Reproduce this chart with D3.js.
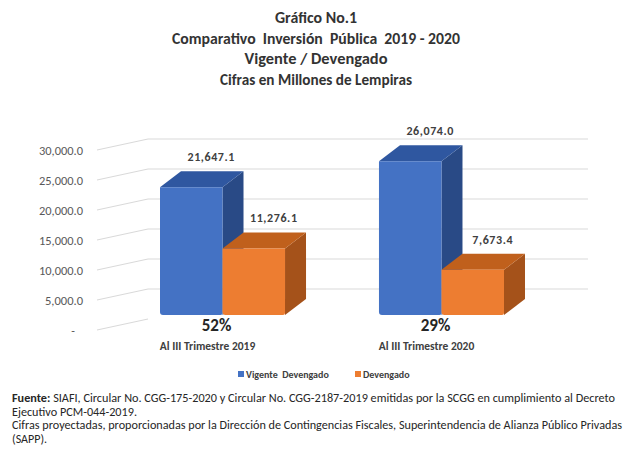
<!DOCTYPE html>
<html><head><meta charset="utf-8">
<script src="https://cdn.jsdelivr.net/npm/d3@7"></script>
<style>
html,body{margin:0;padding:0;background:#fff;}
svg{display:block;font-family:Carlito,Calibri,Lato,"Open Sans",sans-serif;}
text{white-space:pre;}
</style></head>
<body>
<svg id="c" width="628" height="452"></svg>
<script>
// ---- data ----
const titleLines = ["Gráfico No.1", "Comparativo  Inversión  Pública  2019 - 2020", "Vigente / Devengado", "Cifras en Millones de Lempiras"];
const categories = ["Al III Trimestre 2019", "Al III Trimestre 2020"];
const seriesNames = ["Vigente  Devengado", "Devengado"];
const vigente = [21647.1, 26074.0];
const devengado = [11276.1, 7673.4];
const tickValues = [0, 5000, 10000, 15000, 20000, 25000, 30000];
const footLines = [
  ["Fuente: ", "SIAFI, Circular No. CGG-175-2020 y Circular No. CGG-2187-2019 emitidas por la SCGG en cumplimiento al Decreto"],
  ["", "Ejecutivo PCM-044-2019."],
  ["", "Cifras proyectadas, proporcionadas por la Dirección de Contingencias Fiscales, Superintendencia de Alianza Público Privadas"],
  ["", "(SAPP)."]
];

// ---- layout / style ----
const svg = d3.select("#c");
const colors = {
  front: ["#4472C4", "#ED7D31"],
  top: ["#2F57A0", "#C0601C"],
  side: ["#294A86", "#A5521A"]
};
const DX = 21, DY = -16;
const yFront = d3.scaleLinear().domain([0, 30000]).range([315, 138]);
const yWall = d3.scaleLinear().domain([0, 30000]).range([319, 139]);
const yAxis = d3.scaleLinear().domain([0, 30000]).range([330, 150]);
const x0 = d3.scaleBand().domain(categories).range([160, 504]).paddingInner(0.429);
const x1 = d3.scaleBand().domain(seriesNames).range([0, x0.bandwidth()]);
const fmt = d3.format(",.1f");

// title
const titleWidths = [82, 288, 143, 192];
svg.append("g").selectAll("text").data(titleLines).join("text")
  .attr("x", 316).attr("y", (d, i) => 23 + i * 20.5)
  .attr("text-anchor", "middle").attr("font-weight", "bold")
  .attr("font-size", 15).attr("fill", "#333")
  .attr("textLength", (d, i) => titleWidths[i]).attr("lengthAdjust", "spacingAndGlyphs")
  .text(d => d);

// gridlines: side wall diagonals + back wall horizontals
const grid = svg.append("g").attr("stroke", "#d9d9d9").attr("stroke-width", 1).attr("fill", "none");
grid.selectAll("path.d").data(tickValues).join("path").attr("class", "d")
  .attr("d", v => `M97,${yAxis(v)}L148,${yWall(v)}`);
grid.selectAll("line.h").data(tickValues.filter(v => v > 0)).join("line").attr("class", "h")
  .attr("x1", 148).attr("x2", 588)
  .attr("y1", v => yWall(v)).attr("y2", v => yWall(v));

// axis labels
svg.append("g").selectAll("text").data(tickValues).join("text")
  .attr("x", 83).attr("y", v => yAxis(v) + 4.5)
  .attr("text-anchor", "end").attr("font-size", 12).attr("fill", "#595959")
  .attr("textLength", v => v === 0 ? null : (v >= 10000 ? 44 : 38)).attr("lengthAdjust", "spacingAndGlyphs")
  .text(v => v === 0 ? "-   " : fmt(v));

// bars
const series = [vigente, devengado];
const bars = [];
categories.forEach((c, ci) => {
  series.forEach((vals, si) => {
    bars.push({ c, ci, si, v: vals[ci], x: x0(c) + x1(seriesNames[si]), w: x1.bandwidth() });
  });
});
const y0 = yFront(0);
const bg = svg.append("g");
bars.forEach(b => {
  const y = yFront(b.v), x = b.x, w = b.w;
  const g = bg.append("g");
  g.append("path").attr("fill", colors.side[b.si])
    .attr("d", `M${x + w},${y}L${x + w + DX},${y + DY}L${x + w + DX},${y0 + DY}L${x + w},${y0}Z`);
  g.append("path").attr("fill", colors.top[b.si])
    .attr("d", `M${x},${y}L${x + DX},${y + DY}L${x + w + DX},${y + DY}L${x + w},${y}Z`);
  g.append("path").attr("fill", colors.front[b.si])
    .attr("d", `M${x},${y}H${x + w}V${y0 - 2}Q${x + w},${y0} ${x + w - 2},${y0}H${x + 3}Q${x},${y0} ${x},${y0 - 3}Z`);
});

// value labels
svg.append("g").selectAll("text").data(bars).join("text")
  .attr("x", b => b.x + b.w / 2 + 20).attr("y", b => yFront(b.v) - 26)
  .attr("text-anchor", "middle").attr("font-weight", "bold").attr("font-size", 12)
  .attr("letter-spacing", 0.6).attr("fill", "#404040")
  .text(b => fmt(b.v));

// percentage labels
svg.append("g").selectAll("text").data(categories).join("text")
  .attr("x", c => x0(c) + x0.bandwidth() / 2 - 6).attr("y", 331)
  .attr("text-anchor", "middle").attr("font-weight", "bold").attr("font-size", 17)
  .attr("fill", "#262626")
  .text((c, i) => Math.round(devengado[i] / vigente[i] * 100) + "%");

// category labels
svg.append("g").selectAll("text").data(categories).join("text")
  .attr("x", c => x0(c) + x0.bandwidth() / 2 - 15).attr("y", 350)
  .attr("text-anchor", "middle").attr("font-weight", "bold").attr("font-size", 11.5)
  .attr("fill", "#404040")
  .text(c => c);

// legend
const lg = svg.append("g");
const legX = [238, 355];
seriesNames.forEach((s, i) => {
  lg.append("rect").attr("x", legX[i]).attr("y", 371).attr("width", 6).attr("height", 6)
    .attr("fill", colors.front[i]);
  lg.append("text").attr("x", legX[i] + 8).attr("y", 378)
    .attr("font-size", 10).attr("font-weight", "bold").attr("fill", "#404040").text(s);
});

// footnote
const fg = svg.append("g");
const footWidths = [603, 125, 610, null];
footLines.forEach((l, i) => {
  const t = fg.append("text").attr("x", 12).attr("y", 402 + i * 13.5)
    .attr("font-size", 12).attr("fill", "#262626");
  if (footWidths[i]) t.attr("textLength", footWidths[i]).attr("lengthAdjust", "spacingAndGlyphs");
  if (l[0]) t.append("tspan").attr("font-weight", "bold").text(l[0]);
  t.append("tspan").text(l[1]);
});
</script>
</body></html>
